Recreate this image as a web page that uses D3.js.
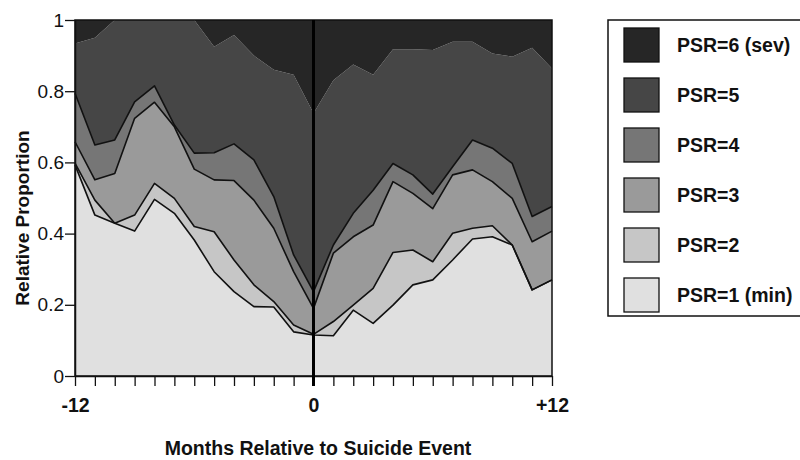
<!DOCTYPE html>
<html>
<head>
<meta charset="utf-8">
<script src="https://cdn.jsdelivr.net/npm/d3@7"></script>
<style>
  body { margin: 0; background: #fff; }
  text { font-family: "Liberation Sans", Arial, Helvetica, sans-serif; }
</style>
</head>
<body>
<svg id="chart" width="800" height="460" viewBox="0 0 800 460"></svg>
<script>
// months relative to the suicide event
const months = [-12, -11, -10, -9, -8, -7, -6, -5, -4, -3, -2, -1, 0, 1, 2, 3, 4, 5, 6, 7, 8, 9, 10, 11, 12];

// proportion of each PSR level per month
const psr1 = [.593, .452, .429, .407, .496, .457, .382, .293, .237, .195, .194, .124, .115, .113, .185, .148, .199, .256, .270, .326, .385, .391, .368, .242, .270];
const psr2 = [.005, .042, .000, .045, .045, .042, .038, .112, .089, .061, .015, .019, .002, .040, .014, .098, .148, .098, .051, .075, .030, .031, .000, .000, .000];
const psr3 = [.060, .057, .140, .272, .228, .201, .161, .146, .223, .238, .206, .150, .073, .192, .192, .178, .199, .159, .149, .164, .164, .124, .131, .135, .137];
const psr4 = [.136, .098, .094, .046, .046, .005, .045, .076, .103, .113, .089, .047, .047, .023, .066, .098, .051, .052, .041, .023, .084, .094, .098, .071, .069];
const psr5 = [.140, .301, .337, .230, .185, .295, .374, .298, .306, .293, .356, .506, .501, .463, .418, .324, .321, .353, .405, .351, .276, .266, .300, .474, .388];
const psr6 = [.066, .050, .000, .000, .000, .000, .000, .075, .042, .100, .140, .154, .262, .169, .125, .154, .082, .082, .084, .061, .061, .094, .103, .078, .136];

const levels = ["PSR=1 (min)", "PSR=2", "PSR=3", "PSR=4", "PSR=5", "PSR=6 (sev)"];
const shades = ["#e0e0e0", "#c6c6c6", "#9a9a9a", "#767676", "#464646", "#262626"];
const yTicks = [0, 0.2, 0.4, 0.6, 0.8, 1];
const xTickLabels = {"-12": "-12", "0": "0", "12": "+12"};

const svg = d3.select("#chart");
const margin = {left: 75, top: 20, right: 248, bottom: 84};
const width = 800 - margin.left - margin.right;
const height = 460 - margin.top - margin.bottom;

const g = svg.append("g").attr("transform", `translate(${margin.left},${margin.top})`);

const x = d3.scaleLinear().domain([-12, 12]).range([0, width]);
const y = d3.scaleLinear().domain([0, 1]).range([height, 0]);

// build rows for the stack
const series = [psr1, psr2, psr3, psr4, psr5, psr6];
const rows = months.map((m, i) => {
    let r = {month: m};
    levels.forEach((k, j) => r[k] = series[j][i]);
    return r;
});

const stacked = d3.stack().keys(levels)(rows);

/* ----- areas ----- */
const area = d3.area()
    .x(d => x(d.data.month))
    .y0(d => y(d[0]))
    .y1(d => y(d[1]));

g.append("g").selectAll("path")
    .data(stacked)
    .enter()
    .append("path")
    .attr("d", area)
    .attr("fill", (d, i) => shades[i]);

// black boundary lines on top of PSR 1..4
const line = d3.line()
    .x(d => x(d.data.month))
    .y(d => y(d[1]));

g.append("g").selectAll("path")
    .data(stacked.slice(0, 4))
    .enter()
    .append("path")
    .attr("d", line)
    .attr("fill", "none")
    .attr("stroke", "#111")
    .attr("stroke-width", 1.6)
    .attr("stroke-linejoin", "round");

// frame (top / right)
g.append("rect")
    .attr("width", width).attr("height", height)
    .attr("fill", "none")
    .attr("stroke", "#111")
    .attr("stroke-width", 1.5);

/* ----- axes ----- */
const yAxis = g.append("g")
    .call(d3.axisLeft(y).tickValues(yTicks).tickSize(10).tickSizeOuter(0).tickFormat(d => String(d)));
yAxis.selectAll("text")
    .attr("x", -11)
    .attr("font-size", 19)
    .attr("fill", "#111");

const xAxis = g.append("g")
    .attr("transform", `translate(0,${height})`)
    .call(d3.axisBottom(x).tickValues(months).tickSize(10).tickSizeOuter(0)
        .tickFormat(d => xTickLabels[String(d)] || ""));
xAxis.selectAll("text")
    .attr("y", 36).attr("dy", 0)
    .attr("font-size", 19.5)
    .attr("font-weight", "bold")
    .attr("fill", "#111");

[yAxis, xAxis].forEach(a => {
    a.selectAll("line").attr("stroke", "#111").attr("stroke-width", 1.3);
    a.select(".domain").attr("stroke", "#111").attr("stroke-width", 1.5);
});

// event line at month 0
g.append("line")
    .attr("x1", x(0)).attr("x2", x(0))
    .attr("y1", 0).attr("y2", height + 10)
    .attr("stroke", "#000")
    .attr("stroke-width", 3);

/* ----- titles ----- */
svg.append("text")
    .attr("transform", `translate(29,${margin.top + height / 2 + 20}) rotate(-90)`)
    .attr("text-anchor", "middle")
    .attr("font-size", 19)
    .attr("font-weight", "bold")
    .attr("fill", "#111")
    .text("Relative Proportion");

svg.append("text")
    .attr("x", 318).attr("y", 455)
    .attr("text-anchor", "middle")
    .attr("font-size", 19.5)
    .attr("font-weight", "bold")
    .attr("fill", "#111")
    .text("Months Relative to Suicide Event");

/* ----- legend ----- */
const legend = svg.append("g").attr("transform", "translate(608,20)");
legend.append("rect")
    .attr("width", 200).attr("height", 296)
    .attr("fill", "#fff")
    .attr("stroke", "#111")
    .attr("stroke-width", 1.5);

const items = legend.selectAll(".item")
    .data(levels.slice().reverse())
    .enter()
    .append("g")
    .attr("class", "item")
    .attr("transform", (d, i) => `translate(16,${8 + i * 50})`);

items.append("rect")
    .attr("width", 35).attr("height", 34)
    .attr("fill", d => shades[levels.indexOf(d)])
    .attr("stroke", "#111")
    .attr("stroke-width", 1.3);

items.append("text")
    .attr("x", 53).attr("y", 24)
    .attr("font-size", 19.5)
    .attr("font-weight", "bold")
    .attr("fill", "#111")
    .text(d => d);
</script>
</body>
</html>
